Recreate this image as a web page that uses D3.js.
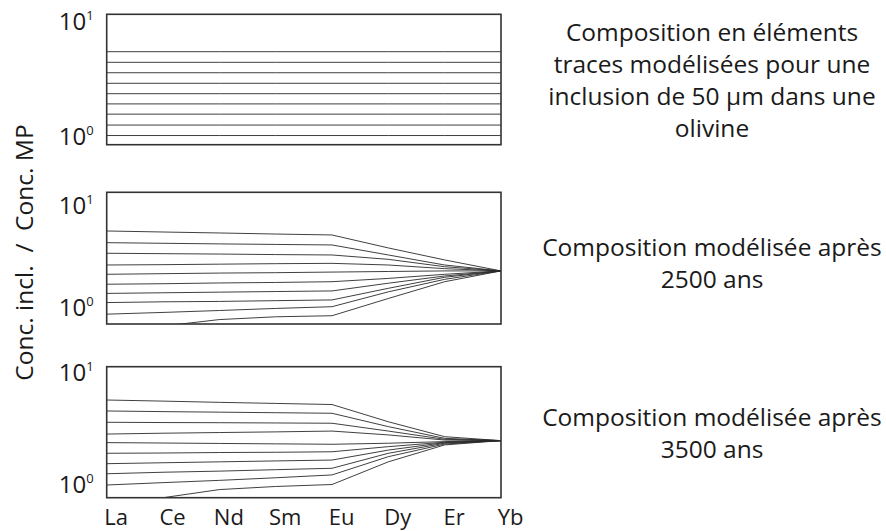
<!DOCTYPE html>
<html>
<head>
<meta charset="utf-8">
<script src="https://cdn.jsdelivr.net/npm/d3@7"></script>
<style>
  html, body { margin: 0; padding: 0; background: #fff; }
  svg { display: block; }
  text { font-family: "Open Sans", "Noto Sans", sans-serif; fill: #1a1a1a; }
</style>
</head>
<body>
<svg id="chart" width="886" height="531"></svg>
<script>
// ---------------- DATA ----------------
const categories = ["La", "Ce", "Nd", "Sm", "Eu", "Dy", "Er", "Yb"];

// Panel 1: initial modelled composition (flat patterns)
const initialSeries = [
  [5.52, 5.52, 5.52, 5.52, 5.52, 5.52, 5.52, 5.52],
  [4.46, 4.46, 4.46, 4.46, 4.46, 4.46, 4.46, 4.46],
  [3.62, 3.62, 3.62, 3.62, 3.62, 3.62, 3.62, 3.62],
  [2.93, 2.93, 2.93, 2.93, 2.93, 2.93, 2.93, 2.93],
  [2.38, 2.38, 2.38, 2.38, 2.38, 2.38, 2.38, 2.38],
  [1.94, 1.94, 1.94, 1.94, 1.94, 1.94, 1.94, 1.94],
  [1.58, 1.58, 1.58, 1.58, 1.58, 1.58, 1.58, 1.58],
  [1.27, 1.27, 1.27, 1.27, 1.27, 1.27, 1.27, 1.27],
  [1.03, 1.03, 1.03, 1.03, 1.03, 1.03, 1.03, 1.03],
  [0.84, 0.84, 0.84, 0.84, 0.84, 0.84, 0.84, 0.84]
];

// Panel 2: after 2500 years
const series2500 = [
  [5.69, 5.56, 5.44, 5.31, 5.20, 3.88, 2.96, 2.31],
  [4.37, 4.31, 4.25, 4.20, 4.15, 3.31, 2.64, 2.31],
  [3.44, 3.41, 3.38, 3.34, 3.31, 3.00, 2.54, 2.31],
  [2.64, 2.66, 2.69, 2.72, 2.74, 2.64, 2.43, 2.31],
  [2.14, 2.17, 2.20, 2.22, 2.25, 2.28, 2.31, 2.31],
  [1.71, 1.73, 1.76, 1.78, 1.81, 1.95, 2.14, 2.31],
  [1.39, 1.41, 1.43, 1.45, 1.47, 1.75, 2.06, 2.31],
  [1.13, 1.15, 1.16, 1.18, 1.20, 1.56, 2.00, 2.31],
  [0.87, 0.905, 0.945, 0.99, 1.03, 1.44, 1.91, 2.31],
  [0.43, 0.665, 0.77, 0.82, 0.84, 1.24, 1.81, 2.31]
];

// Panel 3: after 3500 years
const series3500 = [
  [5.74, 5.61, 5.47, 5.35, 5.23, 3.67, 2.70, 2.49],
  [4.58, 4.52, 4.47, 4.42, 4.37, 3.32, 2.61, 2.49],
  [3.63, 3.61, 3.60, 3.58, 3.56, 3.03, 2.56, 2.49],
  [2.85, 2.90, 2.94, 2.98, 3.03, 2.80, 2.52, 2.49],
  [2.39, 2.37, 2.35, 2.33, 2.31, 2.36, 2.44, 2.49],
  [1.92, 1.93, 1.95, 1.96, 1.98, 2.20, 2.41, 2.49],
  [1.55, 1.58, 1.61, 1.64, 1.67, 2.05, 2.39, 2.49],
  [1.26, 1.30, 1.33, 1.37, 1.41, 1.92, 2.36, 2.49],
  [1.00, 1.05, 1.10, 1.16, 1.23, 1.79, 2.32, 2.49],
  [0.54, 0.77, 0.91, 0.97, 1.01, 1.61, 2.28, 2.49]
];

const yTickValues = [1, 10];
const yTitle = "Conc. incl.  /  Conc. MP";
const noteInitial = ["Composition en éléments", "traces modélisées pour une", "inclusion de 50 µm dans une", "olivine"];
const note2500 = ["Composition modélisée après", "2500 ans"];
const note3500 = ["Composition modélisée après", "3500 ans"];

// ---------------- LAYOUT ----------------
const svg = d3.select("#chart");
const plotLeft = 106.7, plotRight = 501;
const panels = [
  { top: 14.3,  bottom: 144.7, y1: 137, y10: 22,  series: initialSeries, note: noteInitial, noteY: 31.7 },
  { top: 192.3, bottom: 324,   y1: 308, y10: 206, series: series2500,   note: note2500,    noteY: 246.7 },
  { top: 366.7, bottom: 497.7, y1: 485, y10: 373, series: series3500,   note: note3500,    noteY: 416.7 }
];

const x = d3.scalePoint().domain(categories).range([plotLeft, plotRight]);
const noteSize = 24.5, xLabelSize = 22, tickSize = 24;

panels.forEach((p, i) => {
  const y = d3.scaleLog().domain([1, 10]).range([p.y1, p.y10]);
  const g = svg.append("g");

  const clipId = "clip" + i;
  svg.append("clipPath").attr("id", clipId)
    .append("rect")
    .attr("x", plotLeft).attr("y", p.top)
    .attr("width", plotRight - plotLeft).attr("height", p.bottom - p.top);

  const line = d3.line()
    .x((d, j) => x(categories[j]))
    .y(d => y(d));

  g.append("g").attr("clip-path", `url(#${clipId})`)
    .selectAll("path")
    .data(p.series)
    .join("path")
    .attr("d", line)
    .attr("fill", "none")
    .attr("stroke", "#2a2a2a")
    .attr("stroke-width", 0.9);

  // frame
  g.append("rect")
    .attr("x", plotLeft).attr("y", p.top)
    .attr("width", plotRight - plotLeft).attr("height", p.bottom - p.top)
    .attr("fill", "none")
    .attr("stroke", "#333")
    .attr("stroke-width", 1.6);

  // y axis ticks (10^0, 10^1)
  const ax = g.append("g")
    .attr("transform", `translate(${plotLeft},0)`)
    .call(d3.axisLeft(y).tickValues(yTickValues).tickSize(0).tickPadding(13));
  ax.select(".domain").remove();
  ax.selectAll(".tick text").each(function(d) {
    const t = d3.select(this);
    t.text(null)
      .attr("font-size", tickSize)
      .attr("font-family", "'Open Sans', sans-serif")
      .attr("fill", "#1a1a1a");
    t.append("tspan").text("10");
    t.append("tspan").text(String(Math.round(Math.log10(d))))
      .attr("font-size", 13)
      .attr("dy", "-0.8em");
  });

  // right-hand notes
  const note = svg.append("text")
    .attr("text-anchor", "middle")
    .attr("font-size", noteSize);
  p.note.forEach((s, k) => {
    note.append("tspan")
      .attr("x", 712)
      .attr("y", p.noteY + k * 32)
      .attr("dy", "0.36em")
      .text(s);
  });

  // x axis on bottom panel
  if (i === panels.length - 1) {
    const xa = g.append("g")
      .attr("transform", `translate(0,${p.bottom})`)
      .call(d3.axisBottom(x).tickSize(0).tickPadding(11.5));
    xa.select(".domain").remove();
    xa.selectAll(".tick text")
      .attr("font-size", xLabelSize)
      .attr("font-family", "'Open Sans', sans-serif")
      .attr("fill", "#1a1a1a")
      .attr("dx", 9);
  }
});

// y title
svg.append("text")
  .attr("transform", "translate(24,252.5) rotate(-90)")
  .attr("text-anchor", "middle")
  .attr("dy", "0.36em")
  .attr("font-size", noteSize)
  .style("white-space", "pre")
  .text(yTitle);
</script>
</body>
</html>
